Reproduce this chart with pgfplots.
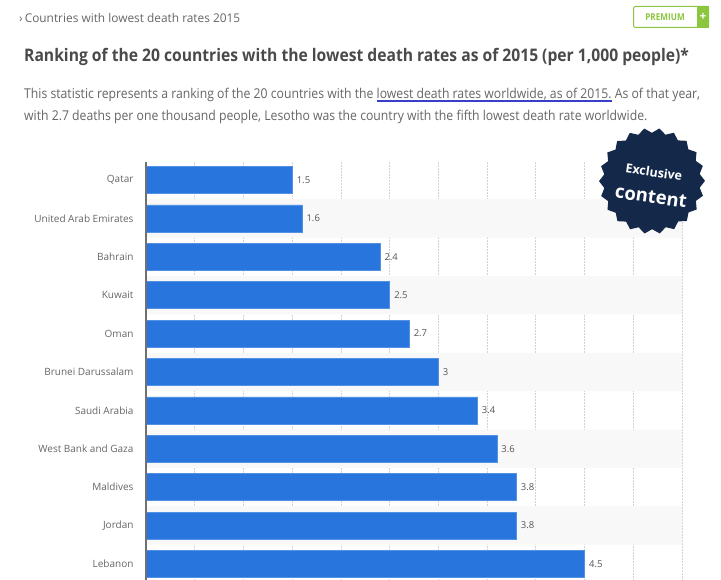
\documentclass[border=0pt]{standalone}
\usepackage{pgfplots}
\pgfplotsset{compat=1.18}
\usepackage{fontspec}
\setmainfont{Open Sans}
\usetikzlibrary{shapes.geometric}
\definecolor{barblue}{HTML}{2876DD}
\definecolor{bandgray}{HTML}{F8F8F8}
\definecolor{gridgray}{HTML}{D2D2D2}
\definecolor{axisgray}{HTML}{707070}
\definecolor{labgray}{HTML}{666666}
\definecolor{valgray}{HTML}{555555}
\definecolor{titlegray}{HTML}{4A4A4A}
\definecolor{descgray}{HTML}{666666}
\definecolor{ulblue}{HTML}{3A3FC8}
\definecolor{premgreen}{HTML}{8CC63F}
\definecolor{navy}{HTML}{14294A}
\newsavebox\ulbox
\newcommand\ulb[1]{\sbox\ulbox{#1}\rlap{\textcolor{ulblue}{\rule[-3.2bp]{\wd\ulbox}{1.8bp}}}\usebox\ulbox}
\pgfplotstableread{
idx val
0 1.5
1 1.6
2 2.4
3 2.5
4 2.7
5 3
6 3.4
7 3.6
8 3.8
9 3.8
10 4.5
}\datatab
\pgfplotstableread{
idx val
1 5.5
3 5.5
5 5.5
7 5.5
9 5.5
}\bandtab
\begin{document}
\begin{tikzpicture}[x=1bp,y=1bp]
\useasboundingbox[fill=white] (0,0) rectangle (721,-580);
% header
\node[anchor=base west, inner sep=0, text=descgray] at (19,-23) {\scalebox{0.99}[1]{\fontsize{12bp}{14bp}\selectfont ›\,Countries with lowest death rates 2015}};
% premium
\draw[premgreen, line width=1bp, rounded corners=1.5bp] (633.5,-6.5) rectangle (708.5,-27.5);
\fill[premgreen] (697,-6) rectangle (709,-28);
\node[text=premgreen, inner sep=0] at (665,-17) {\scalebox{0.86}[1]{\fontsize{9.5bp}{11bp}\selectfont\bfseries PREMIUM}};
\node[text=white, inner sep=0] at (703,-16.5) {\fontsize{12bp}{12bp}\selectfont\bfseries +};
% title
\node[anchor=base west, inner sep=0, text=titlegray] at (24,-62) {\scalebox{0.905}[1]{\fontsize{17.3bp}{20bp}\selectfont\bfseries Ranking of the 20 countries with the lowest death rates as of 2015 (per 1,000 people)*}};
% description
\node[anchor=base west, inner sep=0, text=descgray] at (24,-99) {\scalebox{0.905}[1]{\fontsize{13.5bp}{16bp}\selectfont This statistic represents a ranking of the 20 countries with the \ulb{lowest death rates worldwide, as of 2015.} As of that year,}};
\node[anchor=base west, inner sep=0, text=descgray] at (24,-121) {\scalebox{0.905}[1]{\fontsize{13.5bp}{16bp}\selectfont with 2.7 deaths per one thousand people, Lesotho was the country with the fifth lowest death rate worldwide.}};
\begin{axis}[
  at={(146bp,-580bp)}, anchor=south west,
  scale only axis, width=536bp, height=418bp,
  xmin=0, xmax=5.5, ymin=-0.47, ymax=10.42,
  y dir=reverse,
  axis line style={draw=none},
  xtick={0.5,1,...,5.5}, xticklabels={},
  xmajorgrids,
  grid style={gridgray, line width=0.8bp, dash pattern=on 1.5bp off 1.5bp},
  ytick={0,...,10},
  yticklabels={Qatar,United Arab Emirates,Bahrain,Kuwait,Oman,Brunei Darussalam,Saudi Arabia,West Bank and Gaza,Maldives,Jordan,Lebanon},
  yticklabel style={font=\fontsize{10bp}{12bp}\selectfont, text=labgray, xshift=-9bp},
  major tick length=0pt,
  /pgf/number format/assume math mode=true,
  clip=false,
]
\addplot[xbar, bar shift=0pt, bar width=38.4bp, fill=bandgray, draw=none] table[x=val, y=idx] {\bandtab};
\addplot[xbar, bar shift=0pt, bar width=27bp, fill=barblue, draw=barblue!80!white, line width=0.6bp,
  nodes near coords, nodes near coords style={font=\fontsize{9.5bp}{11bp}\selectfont, text=valgray, anchor=west, xshift=1bp}]
  table[x=val, y=idx] {\datatab};
\draw[axisgray, line width=2bp] (axis cs:0,-0.47) -- (axis cs:0,10.42);
\end{axis}
% badge
\node[star, star points=22, star point ratio=1.1, fill=navy, minimum size=106bp, inner sep=0, rotate=-8] at (652,-181) {};
\node[text=white, inner sep=0, rotate=-8] at (654,-172) {\fontsize{12.5bp}{13bp}\selectfont\bfseries Exclusive};
\node[text=white, inner sep=0, rotate=-8] at (651,-197) {\fontsize{18.5bp}{19bp}\selectfont\bfseries content};
\end{tikzpicture}
\end{document}
